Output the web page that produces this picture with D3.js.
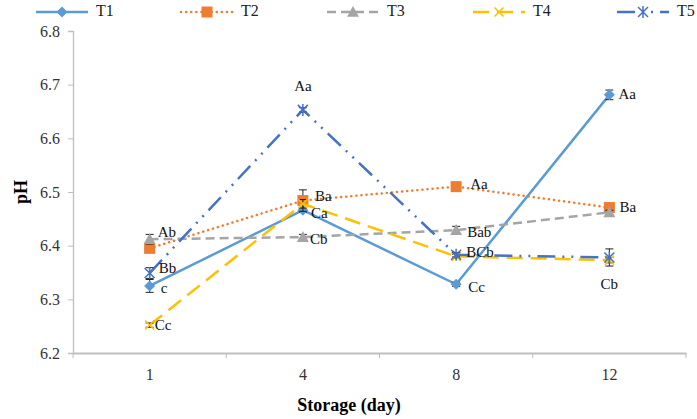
<!DOCTYPE html>
<html><head><meta charset="utf-8">
<script src="https://cdn.jsdelivr.net/npm/d3@7/dist/d3.min.js"></script>
<style>body{margin:0;background:#fff}svg{display:block}svg text{font-family:'Liberation Serif','DejaVu Serif','Times New Roman',Times,serif !important}</style>
</head><body><svg id="c" width="697" height="419"></svg>
<script>
const days = ["1", "4", "8", "12"];
const yTicks = [6.2, 6.3, 6.4, 6.5, 6.6, 6.7, 6.8];
const seriesNames = ["T1", "T2", "T3", "T4", "T5"];
const t1 = [6.325, 6.466, 6.328, 6.681];
const t2 = [6.395, 6.484, 6.510, 6.471];
const t3 = [6.412, 6.416, 6.429, 6.462];
const t4 = [6.252, 6.478, 6.380, 6.373];
const t5 = [6.349, 6.653, 6.383, 6.378];
const e1 = [0.012, 0.004, 0.004, 0.009];
const e2 = [0.005, 0.020, 0.004, 0.005];
const e3 = [0.009, 0.005, 0.007, 0.004];
const e4 = [0.004, 0.008, 0.004, 0.005];
const e5 = [0.010, 0.004, 0.004, 0.016];
const l1 = ["c", "Ca", "Cc", "Aa"];
const l2 = ["", "Ba", "Aa", "Ba"];
const l3 = ["Ab", "Cb", "Bab", ""];
const l4 = ["Cc", "", "BCb", "Cb"];
const l5 = ["Bb", "Aa", "", ""];

const FONT = "'Liberation Serif','DejaVu Serif','Times New Roman',Times,serif";
const svg = d3.select("#c");
const x = d3.scaleBand().domain(days).range([73, 686]).paddingInner(0).paddingOuter(0);
const y = d3.scaleLinear().domain([6.2, 6.8]).range([353, 31]);

const styles = [
  {color:"#5B9BD5", dash:null, cap:"butt", w:2.5, marker:"diamond"},
  {color:"#ED7D31", dash:"0.1 5", cap:"round", w:2.5, marker:"square"},
  {color:"#A5A5A5", dash:"9 5", cap:"butt", w:2.5, marker:"triangle"},
  {color:"#FFC000", dash:"16 8", cap:"butt", w:2.5, marker:"x"},
  {color:"#4472C4", dash:"18 7 2 7 2 7", cap:"butt", w:2.5, marker:"star"}
];
const series = [
  {name:seriesNames[0], v:t1, e:e1, l:l1},
  {name:seriesNames[1], v:t2, e:e2, l:l2},
  {name:seriesNames[2], v:t3, e:e3, l:l3},
  {name:seriesNames[3], v:t4, e:e4, l:l4},
  {name:seriesNames[4], v:t5, e:e5, l:l5}
];

// axes
const yAxis = d3.axisLeft(y).tickValues(yTicks).tickFormat(d3.format(".1f")).tickSize(5).tickPadding(8);
const gy = svg.append("g").attr("transform","translate(73,0)").call(yAxis).attr("font-family",FONT);
gy.select(".domain").attr("stroke","#BFBFBF").attr("stroke-width",1.3);
gy.selectAll(".tick line").attr("stroke","#BFBFBF");
gy.selectAll(".tick text").attr("font-size",16).attr("fill","#333");

const xAxis = d3.axisBottom(x).tickSize(0).tickPadding(16);
const gx = svg.append("g").attr("transform","translate(0,353)").call(xAxis).attr("font-family",FONT);
gx.select(".domain").attr("stroke","#BFBFBF").attr("stroke-width",2);
gx.selectAll(".tick text").attr("font-size",16).attr("fill","#333");
// boundary ticks
const bounds = days.map(d => x(d)).concat([x(days[days.length-1]) + x.bandwidth()]);
svg.append("g").selectAll("line").data(bounds).join("line")
  .attr("x1", d=>d).attr("x2", d=>d).attr("y1",353).attr("y2",358)
  .attr("stroke","#BFBFBF").attr("stroke-width",1);

svg.append("text").attr("transform","translate(23,192) rotate(-90)").attr("text-anchor","middle")
  .attr("font-family",FONT).attr("font-size",18).attr("font-weight","bold").attr("dominant-baseline","middle").text("pH");
svg.append("text").attr("x",349).attr("y",411).attr("text-anchor","middle")
  .attr("font-family",FONT).attr("font-size",18).attr("font-weight","bold").text("Storage (day)");

function drawMarker(g, type, cx, cy, color, s){
  if(type==="diamond"){
    g.append("path").attr("d",`M${cx},${cy-s}L${cx+s},${cy}L${cx},${cy+s}L${cx-s},${cy}Z`).attr("fill",color);
  } else if(type==="square"){
    g.append("rect").attr("x",cx-s).attr("y",cy-s).attr("width",2*s).attr("height",2*s).attr("fill",color);
  } else if(type==="triangle"){
    g.append("path").attr("d",`M${cx},${cy-s}L${cx+s},${cy+s*0.8}L${cx-s},${cy+s*0.8}Z`).attr("fill",color);
  } else if(type==="x"){
    g.append("path").attr("d",`M${cx-s},${cy-s}L${cx+s},${cy+s}M${cx-s},${cy+s}L${cx+s},${cy-s}`).attr("stroke",color).attr("stroke-width",1.5);
  } else if(type==="star"){
    g.append("path").attr("d",`M${cx-s},${cy-s}L${cx+s},${cy+s}M${cx-s},${cy+s}L${cx+s},${cy-s}M${cx},${cy-s*1.2}L${cx},${cy+s*1.2}`).attr("stroke",color).attr("stroke-width",1.5);
  }
}
const msize = {diamond:5.5, square:5.5, triangle:6, x:4.5, star:5};

const line = d3.line().x((d,i)=>x(days[i])+x.bandwidth()/2).y(d=>y(d));
series.forEach((s,k)=>{
  const st = styles[k];
  const g = svg.append("g");
  g.append("path").datum(s.v).attr("d",line).attr("fill","none").attr("stroke",st.color)
    .attr("stroke-width",st.w).attr("stroke-dasharray",st.dash).attr("stroke-linecap",st.cap);
  s.v.forEach((v,i)=>{
    const cx = x(days[i])+x.bandwidth()/2;
    const e = s.e[i];
    g.append("path").attr("d",`M${cx},${y(v-e)}L${cx},${y(v+e)}M${cx-4},${y(v+e)}L${cx+4},${y(v+e)}M${cx-4},${y(v-e)}L${cx+4},${y(v-e)}`)
      .attr("stroke","#222").attr("stroke-width",1).attr("fill","none");
    drawMarker(g, st.marker, cx, y(v), st.color, msize[st.marker]);
  });
});

// significance labels
const labelPos = {
  "0-0":[11,4], "0-1":[8,4], "0-2":[12,4], "0-3":[9,1],
  "1-1":[12,-3], "1-2":[14,-1], "1-3":[10,1],
  "2-0":[8,-6], "2-1":[7,3], "2-2":[11,3],
  "3-0":[5,1], "3-2":[10,-3], "3-3":[0,25],
  "4-0":[9,-3], "4-1":[0,-22]
};
series.forEach((s,k)=>{
  s.l.forEach((t,i)=>{
    if(!t) return;
    const p = labelPos[k+"-"+i] || [8,0];
    const cx = x(days[i])+x.bandwidth()/2;
    svg.append("text").attr("x",cx+p[0]).attr("y",y(s.v[i])+p[1])
      .attr("text-anchor", p[0]===0 ? "middle" : "start").attr("dominant-baseline","middle")
      .attr("font-family",FONT).attr("font-size",15).attr("fill","#111").text(t);
  });
});

// legend
const legX = [36, 181, 327, 473, 617];
series.forEach((s,k)=>{
  const st = styles[k];
  const g = svg.append("g");
  const x0 = legX[k], ly = 12;
  g.append("line").attr("x1",x0).attr("x2",x0+52).attr("y1",ly).attr("y2",ly)
    .attr("stroke",st.color).attr("stroke-width",2.5).attr("stroke-dasharray",st.dash).attr("stroke-linecap",st.cap);
  drawMarker(g, st.marker, x0+26, ly, st.color, msize[st.marker]);
  g.append("text").attr("x",x0+60).attr("y",ly).attr("dominant-baseline","middle")
    .attr("font-family",FONT).attr("font-size",16).attr("fill","#222").text(s.name);
});
</script></body></html>
